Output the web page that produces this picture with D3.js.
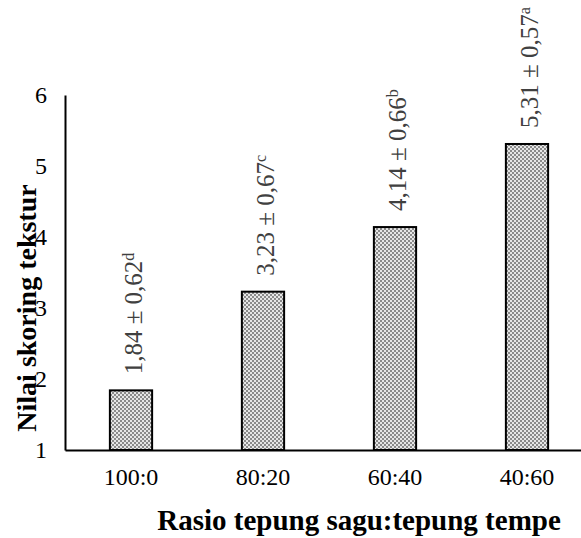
<!DOCTYPE html>
<html><head><meta charset="utf-8">
<script src="https://cdn.jsdelivr.net/npm/d3@7"></script>
<style>body{margin:0;background:#fff}svg{display:block}svg text{font-family:'Liberation Serif','Times New Roman',serif}</style>
</head><body>
<svg id="c" width="581" height="538"></svg>
<script>
const categories = ["100:0", "80:20", "60:40", "40:60"];
const means = [1.84, 3.23, 4.14, 5.31];
const sds = ["0,62", "0,67", "0,66", "0,57"];
const letters = ["d", "c", "b", "a"];
const meanLabels = ["1,84", "3,23", "4,14", "5,31"];
const yTicks = [1, 2, 3, 4, 5, 6];

const svg = d3.select("#c");
const font = "'Liberation Serif','Times New Roman',serif";
const x = d3.scaleBand().domain(categories).range([65, 593]).paddingInner(0.68).paddingOuter(0.34);
const y = d3.scaleLinear().domain([1, 6]).range([450, 95]);

const defs = svg.append("defs");
const pat = defs.append("pattern").attr("id", "chk").attr("patternUnits", "userSpaceOnUse")
  .attr("width", 4).attr("height", 4);
pat.append("rect").attr("width", 4).attr("height", 4).attr("fill", "#e6e6e6");
pat.append("rect").attr("x", 0).attr("y", 0).attr("width", 2).attr("height", 2).attr("fill", "#8a8a8a");
pat.append("rect").attr("x", 2).attr("y", 2).attr("width", 2).attr("height", 2).attr("fill", "#8a8a8a");

// bars
svg.selectAll("rect.bar").data(categories).enter().append("rect").attr("class", "bar")
  .attr("x", d => x(d)).attr("width", x.bandwidth())
  .attr("y", (d, i) => y(means[i])).attr("height", (d, i) => y(1) - y(means[i]))
  .attr("fill", "url(#chk)").attr("stroke", "#000").attr("stroke-width", 2);

// axes
const yAxis = svg.append("g").attr("transform", "translate(65,0)")
  .call(d3.axisLeft(y).tickValues(yTicks).tickSize(0).tickPadding(18).tickFormat(d3.format("d")));
yAxis.attr("font-family", null).attr("font-size", null);
yAxis.select(".domain").attr("stroke", "#000").attr("stroke-width", 2);
yAxis.selectAll("text").style("font-family", font).style("font-size", "24px").attr("fill", "#000");

const xAxis = svg.append("g").attr("transform", "translate(0,450)")
  .call(d3.axisBottom(x).tickSize(0).tickPadding(18));
xAxis.attr("font-family", null).attr("font-size", null);
xAxis.select(".domain").attr("stroke", "#000").attr("stroke-width", 2);
xAxis.selectAll("text").style("font-family", font).style("font-size", "24px").attr("fill", "#000");

// value labels
const lbl = svg.selectAll("text.val").data(categories).enter().append("text").attr("class", "val")
  .attr("transform", (d, i) => `translate(${x(d) + x.bandwidth() / 2 + 11},${y(means[i]) - 16}) rotate(-90)`)
  .style("font-family", font).style("font-size", "25px").attr("fill", "#404040");
lbl.append("tspan").text((d, i) => meanLabels[i] + " \u00b1 " + sds[i]);
lbl.append("tspan").attr("baseline-shift", "super").style("font-size", "16px").text((d, i) => letters[i]);

// axis titles
svg.append("text").attr("x", 359).attr("y", 530).attr("text-anchor", "middle")
  .style("font-family", font).style("font-weight", "bold").style("font-size", "29px").text("Rasio tepung sagu:tepung tempe");
svg.append("text").attr("transform", "translate(36,308) rotate(-90)").attr("text-anchor", "middle")
  .style("font-family", font).style("font-weight", "bold").style("font-size", "28px").text("Nilai skoring tekstur");
</script>
</body></html>
